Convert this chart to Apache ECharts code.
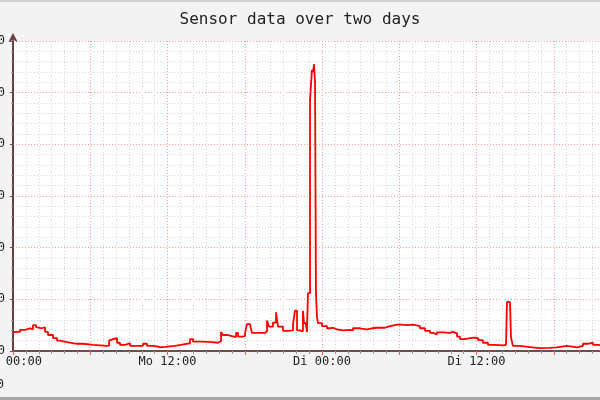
<!DOCTYPE html>
<html>
<head>
<meta charset="utf-8">
<script src="https://cdn.jsdelivr.net/npm/echarts@6/dist/echarts.min.js"></script>
<style>html,body{margin:0;padding:0;background:#f3f3f3;}#c{width:600px;height:400px;}</style>
</head>
<body>
<div id="c"></div>
<script>
// time in hours since Monday 00:00
var hours = [0,0.54,0.93,1.32,1.55,1.79,1.94,2.25,2.49,2.72,3.11,3.42,3.65,4.19,4.97,5.44,6.21,7.30,7.46,7.53,7.77,8.08,8.31,8.70,9.09,9.63,10.10,10.41,10.80,11.18,11.42,11.81,12.58,13.36,13.75,13.98,14.68,15.46,15.92,16.16,16.31,16.62,17.01,17.32,17.48,17.79,18.02,18.17,18.41,18.56,19.03,19.57,19.73,19.88,20.19,20.43,20.58,20.97,21.36,21.75,21.90,22.06,22.29,22.52,22.60,22.76,22.83,22.91,23.07,23.22,23.30,23.38,23.46,23.53,23.61,23.69,24.00,24.39,24.62,24.85,25.17,25.63,26.17,26.41,26.95,27.50,27.88,28.27,28.89,29.28,29.83,30.21,30.60,31.07,31.61,32.00,32.39,32.62,32.93,33.40,33.94,34.17,34.49,34.72,35.11,35.50,35.88,36.12,36.50,36.89,37.44,38.06,38.29,38.37,38.60,38.68,38.83,39.38,40.16,40.93,41.71,42.25,43.03,43.81,44.27,44.66,45.05,45.44,46.0,48.0];
var values = [3.7,4.1,4.4,4.2,5.0,4.6,4.4,4.6,3.7,3.1,2.5,2.0,1.7,1.4,1.4,1.2,1.0,1.0,2.0,2.3,2.5,1.6,1.2,1.5,1.0,1.0,1.4,1.0,0.9,0.7,0.8,1.0,1.35,1.5,2.3,1.8,1.7,1.6,1.9,3.7,3.1,2.9,2.7,3.5,2.8,2.9,3.4,5.2,5.2,3.5,3.5,3.8,5.9,4.7,5.5,7.5,4.7,3.9,4.0,5.2,7.8,4.0,3.8,7.8,5.4,5.0,3.7,11.2,48.6,54.4,54.0,55.5,52.0,11.2,6.6,5.4,4.8,4.4,4.5,4.2,4.0,4.1,4.0,4.4,4.2,4.4,4.5,4.5,4.8,5.1,5.1,5.0,5.1,4.8,4.4,3.9,3.5,3.2,3.6,3.5,3.7,3.4,2.8,2.3,2.5,2.6,2.5,2.1,1.6,1.2,1.1,1.2,1.5,9.5,9.5,2.6,1.0,0.75,0.55,0.6,0.7,1.0,0.7,1.0,1.4,1.6,1.2,1.0,1.0,1.0];
var dayNames = ['Mo','Di','Mi'];
var yTicks = [0,10,20,30,40,50,60];
var titleText = 'Sensor data over two days';

var data = hours.map(function(h,i){return [h, values[i]];});
var chart = echarts.init(document.getElementById('c'), null, {renderer:'canvas'});
var mono = 'DejaVu Sans Mono';
var majorGrid = {show:true,lineStyle:{color:'#ff9a9a',type:[1,2],width:1}};
var minorGrid = {show:true,lineStyle:{color:'#d6d6d6',type:[1,2],width:1}};
chart.setOption({
  backgroundColor:'#f3f3f3',
  animation:false,
  title:{text:titleText,left:'center',top:7,textStyle:{fontFamily:mono,fontSize:16,fontWeight:'normal',color:'#222'}},
  graphic:[
    {type:'rect',shape:{x:0,y:0,width:600,height:2},style:{fill:'#d2d2d2'},silent:true},
    {type:'rect',shape:{x:0,y:397,width:600,height:3},style:{fill:'#a8a8a8'},silent:true},
    {type:'text',x:4,y:385,style:{text:'0',fontFamily:mono,fontSize:12,fill:'#222',align:'right',verticalAlign:'middle'}}
  ],
  grid:{left:13,right:-31,top:41,bottom:49,show:true,backgroundColor:'#ffffff',borderWidth:0,containLabel:false,outerBoundsMode:'none'},
  xAxis:{
    type:'value',min:0,max:48,interval:6,
    axisLine:{lineStyle:{color:'#6a5050',width:2}},
    axisTick:{show:true,length:4,lineStyle:{color:'#ff5555'}},
    minorTick:{show:true,splitNumber:6,length:3,lineStyle:{color:'#999'}},
    splitLine:majorGrid,
    minorSplitLine:minorGrid,
    axisLabel:{margin:5,fontFamily:mono,fontSize:12,color:'#222',showMinLabel:true,showMaxLabel:true,
      formatter:function(v){ if(v%12!==0) return ''; var d=Math.floor(v/24); var hh=v%24; return dayNames[d]+' '+(hh<10?'0':'')+hh+':00';}}
  },
  yAxis:{
    type:'value',min:yTicks[0],max:yTicks[yTicks.length-1],interval:10,
    axisLine:{show:true,symbol:['none','arrow'],symbolSize:[7,9],symbolOffset:[0,8],lineStyle:{color:'#6a4040',width:2}},
    axisTick:{show:true,length:3,lineStyle:{color:'#6a5050'}},
    minorTick:{show:true,splitNumber:5,length:2,lineStyle:{color:'#999'}},
    splitLine:majorGrid,
    minorSplitLine:minorGrid,
    axisLabel:{margin:8,fontFamily:mono,fontSize:12,color:'#222'}
  },
  series:[{type:'line',data:data,step:'end',showSymbol:false,symbol:'none',lineStyle:{color:'#ff0000',width:1.8},clip:true}]
});
</script>
</body>
</html>
